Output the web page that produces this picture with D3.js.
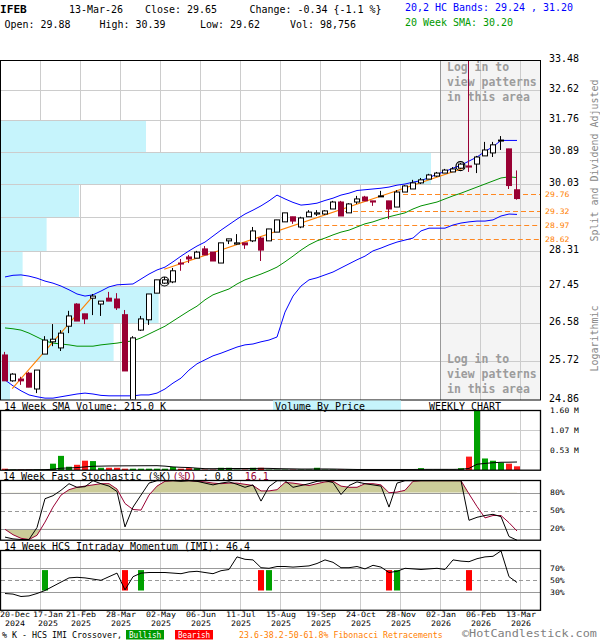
<!DOCTYPE html>
<html><head><meta charset="utf-8">
<script src="https://cdn.jsdelivr.net/npm/d3@7/dist/d3.min.js"></script>
<style>
html,body{margin:0;padding:0;background:#fff}
svg{display:block}
text{font-family:"DejaVu Sans Mono","Liberation Mono",monospace;white-space:pre}
</style></head><body>
<svg id="chart" width="600" height="640"></svg>
<script>
// ---------------- DATA ----------------
const symbol = "IFEB";
const firstWeek = "2024-12-20";
const lastVolume = 98756;
const opens = [25.85,25.27,25.31,25.44,25.09,25.87,26.15,26.01,26.51,27.03,
26.80,27.17,27.03,27.17,27.15,26.78,24.85,26.42,26.66,27.29,
27.53,27.56,28.02,28.17,28.14,28.37,28.29,28.02,28.57,28.49,
28.52,28.57,28.64,28.57,28.79,29.05,29.18,28.92,29.18,29.25,
29.25,29.38,29.56,29.28,29.56,29.69,29.59,29.70,29.59,29.43,
29.82,29.90,30.06,30.16,30.24,30.32,30.35,30.45,30.51,30.56,
30.78,30.86,31.19,30.97,29.88];
const highs = [25.92,25.44,25.36,25.47,25.51,26.28,26.56,26.42,26.87,27.05,
26.80,27.27,27.10,27.32,27.29,26.89,26.28,26.75,27.27,27.61,
27.68,27.90,28.12,28.22,28.32,28.44,28.29,28.52,28.62,28.74,
28.52,28.92,28.67,28.87,29.10,29.28,29.18,29.18,29.35,29.35,
29.35,29.59,29.59,29.53,29.72,29.72,29.59,29.85,29.59,29.87,
30.00,30.14,30.19,30.30,30.35,30.43,30.48,30.59,33.46,30.78,
31.16,31.16,31.32,30.97,30.39];
const lows = [25.27,25.25,25.18,25.13,25.00,25.87,26.05,25.94,26.35,26.63,
26.56,26.77,26.75,27.10,26.89,25.49,24.80,26.40,26.54,27.29,
27.51,27.53,27.83,28.02,28.14,28.22,28.07,28.02,28.49,28.47,
28.37,28.54,28.07,28.57,28.79,29.05,29.00,28.89,29.18,29.20,
29.23,29.38,29.20,29.28,29.51,29.59,29.46,29.69,29.12,29.43,
29.82,29.90,30.03,30.16,30.22,30.32,30.35,30.43,30.35,30.32,
30.78,30.75,30.94,29.90,29.62];
const closes = [25.27,25.42,25.27,25.13,25.51,26.19,26.21,26.35,26.75,26.63,
26.68,27.22,27.10,27.10,26.94,25.49,26.24,26.68,27.27,27.61,
27.61,27.83,28.00,28.12,28.29,28.22,28.07,28.52,28.62,28.52,
28.47,28.82,28.34,28.87,29.10,29.28,29.07,29.15,29.30,29.28,
29.33,29.56,29.20,29.51,29.64,29.59,29.56,29.72,29.38,29.82,
29.98,30.06,30.14,30.27,30.32,30.40,30.43,30.56,30.48,30.75,
30.94,31.08,31.21,29.99,29.65];
const bandUpper = [27.68,27.72,27.73,27.70,27.65,27.58,27.53,27.46,27.37,27.27,
27.22,27.25,27.34,27.44,27.49,27.50,27.51,27.63,27.75,27.85,
27.92,28.05,28.19,28.32,28.44,28.54,28.69,28.84,28.98,29.12,
29.25,29.35,29.46,29.59,29.74,29.64,29.55,29.48,29.50,29.53,
29.60,29.66,29.74,29.79,29.86,29.88,29.90,29.92,29.95,30.00,
30.03,30.08,30.12,30.20,30.29,30.36,30.45,30.53,30.64,30.75,
30.90,31.03,31.20,31.20,31.20];
const bandLower = [25.29,25.16,25.05,24.96,24.92,24.89,24.89,24.92,24.95,24.98,
25.00,24.98,24.95,24.94,24.94,24.94,24.94,24.96,24.96,25.00,
25.09,25.22,25.33,25.51,25.65,25.74,25.83,25.89,25.96,26.03,
26.08,26.10,26.15,26.19,26.26,26.84,27.22,27.46,27.61,27.66,
27.73,27.80,27.90,28.00,28.10,28.19,28.32,28.39,28.47,28.54,
28.59,28.64,28.82,28.89,28.89,28.89,28.97,29.02,29.05,29.07,
29.07,29.10,29.20,29.25,29.24];
const sma20 = [26.47,26.45,26.42,26.35,26.26,26.17,26.12,26.10,26.08,26.05,
26.05,26.05,26.08,26.10,26.12,26.15,26.17,26.24,26.33,26.42,
26.51,26.63,26.75,26.87,26.98,27.13,27.25,27.32,27.39,27.51,
27.61,27.68,27.75,27.83,27.92,28.05,28.19,28.34,28.47,28.57,
28.64,28.72,28.79,28.84,28.92,29.00,29.05,29.12,29.18,29.23,
29.28,29.38,29.46,29.51,29.56,29.64,29.72,29.79,29.87,29.95,
30.03,30.11,30.19,30.22,30.20];
// weekly volume, millions of shares
const volumes = [0.035,0.01,0.01,0.01,0.01,0.01,0.17,0.38,0.088,0.14,
0.25,0.24,0.06,0.06,0.06,0.035,0.035,0.035,0.035,0.035,
0.035,0.08,0.035,0.05,0.05,0.01,0.01,0.06,0.06,0.01,
0.01,0.06,0.06,0.01,0.01,0.01,0.01,0.01,0.01,0.06,
0.01,0.01,0.01,0.01,0.01,0.01,0.01,0.01,0.01,0.01,
0.01,0.01,0.05,0.01,0.01,0.01,0.01,0.05,0.36,1.60,
0.31,0.25,0.20,0.17,0.098756];
const volSma14 = [0.003,0.005,0.006,0.007,0.008,0.009,0.02,0.048,0.055,0.065,
0.083,0.1,0.104,0.108,0.11,0.112,0.113,0.114,0.115,0.116,
0.104,0.083,0.072,0.066,0.05,0.036,0.035,0.038,0.04,0.04,
0.04,0.04,0.045,0.043,0.037,0.033,0.03,0.026,0.026,0.028,
0.028,0.026,0.022,0.018,0.014,0.014,0.014,0.014,0.014,0.014,
0.014,0.014,0.017,0.017,0.017,0.017,0.017,0.02,0.043,0.155,
0.177,0.195,0.208,0.21,0.215];
const stochK = [6,3,2,2,22,70,75,84,95,89,
90,100,95,91,82,23,56,76,96,100,
100,100,99,100,99,96,93,96,98,94,
89,93,66,90,100,100,89,92,95,99,
100,97,77,92,98,95,93,91,56,96,
100,100,100,100,100,100,100,100,34,39,
42,44,40,7,0.8];
const stochD = [19,10,4,2,9,31,56,76,85,89,
91,93,95,95,86,62,52,51,76,91,
99,100,100,100,99,98,96,95,96,96,
94,92,83,83,85,97,96,94,92,95,
98,99,91,89,89,95,95,93,80,81,
84,99,100,100,100,100,100,100,78,57,
38,42,42,30,16.1];
const imi = [28,27,23,24,28,33,40,47,54,55,
54,52,50,56,62,34,56,62,63,63,
63,62,61,64,65,63,61,66,68,89,
85,84,71,70,73,73,72,73,74,78,
84,80,71,71,73,69,75,72,63,65,
70,69,68,69,70,68,84,82,81,86,
89,90,99,56,46.4];
const bullishWeeks = [5,17,33,49];
const bearishWeeks = [15,32,48,58];
const patternWeeks = [20,57];
const priceTicks = [33.48,32.62,31.76,30.89,30.03,29.17,28.31,27.45,26.58,25.72,24.86];
const vbpVolumes = [0,0,725,2150,390,228,108,788,563,45]; // thousands, rows between priceTicks
const volTicks = [1.60,1.07,0.53];
const stochTicks = [80,50,20];
const imiTicks = [70,50,30];
const dateTicks = ["2024-12-20","2025-01-17","2025-02-21","2025-03-28","2025-05-02","2025-06-06","2025-07-11","2025-08-15","2025-09-19","2025-10-24","2025-11-28","2026-01-02","2026-02-06","2026-03-13"];
const fibLevels = [29.76,29.32,28.97,28.62];
const fibStartWeeks = [48.75,42.5,36.9,33.1];
const trendLines = [[0.9,25.10,11,27.22],[19.9,27.87,57.3,30.45]];

// ---------------- SETUP ----------------
const svg = d3.select("#chart");
svg.append("rect").attr("width",600).attr("height",640).attr("fill","#fff");
const defs = svg.append("defs");
const parseD = d3.utcParse("%Y-%m-%d");
const d0 = parseD(firstWeek);
const WEEK = 7*864e5;
const weekDate = i => new Date(+d0 + i*WEEK);
const n = closes.length;
const x = d3.scaleUtc().domain([weekDate(0), weekDate(n-1)]).range([5,517]);
const wx = i => x(weekDate(i));
const slot = wx(1)-wx(0);
const y = d3.scaleLog().domain([24.86,33.48]).range([399.5,60]);
const vy = d3.scaleLinear().domain([0,1.6]).range([470,410.5]);
const sy = d3.scaleLinear().domain([0,100]).range([540.7,480.7]);
const iy = d3.scaleLinear().domain([0,100]).range([610.3,550.3]);
const RED = "#990033", GRID = "#cccccc";
const gridX = dateTicks.slice(1).map(s => Math.round(x(parseD(s)) + slot/2) - 0.5);

function T(parent, str, x0, y0, o = {}) {
  const fs = o.fs || 11, cw = o.cw === undefined ? 6 : o.cw;
  const t = parent.append("text").attr("x", x0).attr("y", y0)
    .attr("font-size", fs).attr("fill", o.fill || "#000").text(str);
  if (o.bold) t.attr("font-weight", "bold");
  if (o.anchor) t.attr("text-anchor", o.anchor);
  if (o.transform) t.attr("transform", o.transform);
  if (cw > 0) t.attr("textLength", str.length * cw - (o.trim || 0)).attr("lengthAdjust", "spacingAndGlyphs");
  return t;
}
// coloured parts laid out on one monospace line (10px mono = 6.02px per char)
function TS(parent, parts, x0, y0) {
  const cw = 6.02;
  let off = 0;
  parts.forEach((p, k) => {
    const s = p[0];
    const lead = s.length - s.trimStart().length;
    const body = s.trim();
    if (body) T(parent, body, x0 + (off + lead) * cw + (k ? 1 : 0), y0, {fs: 10, cw: 0, fill: p[1]});
    off += s.length;
  });
}

// ---------------- HEADER ----------------
const gh = svg.append("g");
const last = n-1;
const chg = closes[last]-closes[last-1];
T(gh, symbol, 0, 13, {bold:true, cw:6.7});
T(gh, "13-Mar-26", 69, 13);
T(gh, "Close: " + closes[last].toFixed(2), 145, 13);
T(gh, "Change: " + chg.toFixed(2) + " {" + (chg/closes[last-1]*100).toFixed(1) + " %}", 249.5, 13);
T(gh, "20,2 HC Bands: " + bandLower[last].toFixed(2) + " , " + bandUpper[last].toFixed(2), 405, 10.5, {fill:"#0000ff"});
T(gh, "Open: " + opens[last].toFixed(2), 4.5, 28);
T(gh, "High: " + highs[last].toFixed(2), 99.5, 28);
T(gh, "Low: " + lows[last].toFixed(2), 200, 28);
T(gh, "Vol: " + d3.format(",")(lastVolume), 290, 28);
T(gh, "20 Week SMA: " + sma20[last].toFixed(2), 405, 26, {fill:"#009900"});

// ---------------- MAIN PRICE CHART ----------------
defs.append("clipPath").attr("id","clipMain").append("rect")
  .attr("x",1).attr("y",60.5).attr("width",539.5).attr("height",339);
const gm = svg.append("g");
gm.append("rect").attr("x",441).attr("y",60).attr("width",99.5).attr("height",339.5).attr("fill","#f4f4f4");
priceTicks.slice(1,-1).forEach(t => {
  const yy = Math.round(y(t)) + 0.5;
  gm.append("line").attr("x1",1).attr("x2",540).attr("y1",yy).attr("y2",yy).attr("stroke",GRID);
});
gridX.forEach(gx => {
  gm.append("line").attr("x1",gx).attr("x2",gx).attr("y1",60).attr("y2",400)
    .attr("stroke", gx > 440 && gx < 442 ? "#999" : GRID);
});
// volume by price
const vbpX = d3.scaleLinear().domain([0,2700]).range([1,541]);
vbpVolumes.forEach((v,k) => {
  if (!v) return;
  const yt = Math.round(y(priceTicks[k])) + 1, yb = Math.round(y(priceTicks[k+1]));
  gm.append("rect").attr("x",1).attr("y",yt).attr("width",vbpX(v)-1).attr("height",yb-yt).attr("fill","#c6f4fc");
});
// log in text
["Log in to","view patterns","in this area"].forEach((s,k) => {
  T(gm, s, 447, 71 + k*15, {bold:true, fs:12, cw:6.9, fill:"#9c9c9c"});
  T(gm, s, 447, 363 + k*15, {bold:true, fs:12, cw:6.9, fill:"#9c9c9c"});
});
// fibonacci
fibLevels.forEach((f,k) => {
  const yy = Math.round(y(f)) + 0.5;
  gm.append("line").attr("x1",wx(fibStartWeeks[k])).attr("x2",540).attr("y1",yy).attr("y2",yy)
    .attr("stroke","#ff8822").attr("stroke-dasharray","5,3");
  T(gm, f.toFixed(2), 545, y(f)+2.7, {fs:7.5, cw:4.9, fill:"#ff8000"});
});
const gc = gm.append("g").attr("clip-path","url(#clipMain)");
const lineGen = d3.line().x((d,i) => wx(i)).y(d => y(d));
gc.append("path").datum(bandUpper).attr("d",lineGen).attr("fill","none").attr("stroke","#0000ff");
gc.append("path").datum(bandLower).attr("d",lineGen).attr("fill","none").attr("stroke","#0000ff");
gc.append("path").datum(sma20).attr("d",lineGen).attr("fill","none").attr("stroke","#009000");
trendLines.forEach(t => {
  gc.append("line").attr("x1",wx(t[0])).attr("y1",y(t[1])).attr("x2",wx(t[2])).attr("y2",y(t[3]))
    .attr("stroke","#ff8000").attr("stroke-width",1.1);
});
closes.forEach((c,i) => {
  const o = opens[i], h = highs[i], l = lows[i];
  const cx = Math.round(wx(i));
  const up = c >= o;
  const col = up ? "#000" : RED;
  gc.append("line").attr("x1",cx-0.5).attr("x2",cx-0.5).attr("y1",y(h)).attr("y2",y(l)).attr("stroke",col);
  const top = y(Math.max(o,c)), bot = y(Math.min(o,c));
  if (up) gc.append("rect").attr("x",cx-2.5).attr("y",top).attr("width",5).attr("height",Math.max(1,bot-top))
    .attr("fill","#fff").attr("stroke","#000");
  else gc.append("rect").attr("x",cx-3).attr("y",top-0.5).attr("width",6).attr("height",Math.max(2,bot-top+1)).attr("fill",RED);
});
patternWeeks.forEach(i => {
  gc.append("circle").attr("cx",wx(i)-0.5).attr("cy",y((opens[i]+closes[i])/2)).attr("r",4.5)
    .attr("fill","none").attr("stroke","#000").attr("stroke-width",1.2);
});
gm.append("rect").attr("x",0.5).attr("y",60.5).attr("width",540).attr("height",339.5)
  .attr("fill","none").attr("stroke","#000");
// price axis labels
priceTicks.forEach(t => {
  const near = fibLevels.some(f => Math.abs(y(f)-y(t)) < 9);
  if (!near) T(gm, t.toFixed(2), 549, y(t)+2, {fs:10.5});
});
T(gm, "Split and Dividend Adjusted", 0, 0, {anchor:"middle", fill:"#888", transform:"translate(598,160.5) rotate(-90)"});
T(gm, "Logarithmic", 0, 0, {anchor:"middle", fill:"#888", transform:"translate(598,338.5) rotate(-90)"});

// ---------------- VOLUME PANEL ----------------
const gv = svg.append("g");
T(gv, "14 Week SMA Volume: " + (volSma14[last]*1000).toFixed(1) + " K", 4, 410);
gv.append("rect").attr("x",273).attr("y",400.5).attr("width",128).attr("height",9.5).attr("fill","#c6f4fc");
T(gv, "Volume By Price", 275, 409.5);
T(gv, "WEEKLY CHART", 429, 410);
volTicks.slice(1).forEach(t => {
  const yy = Math.round(vy(t)) + 0.5;
  gv.append("line").attr("x1",1).attr("x2",540).attr("y1",yy).attr("y2",yy).attr("stroke",GRID);
});
gridX.forEach(gx => gv.append("line").attr("x1",gx).attr("x2",gx).attr("y1",411).attr("y2",470).attr("stroke",GRID));
volumes.forEach((v,i) => {
  const cx = Math.round(wx(i));
  gv.append("rect").attr("x",cx-3).attr("y",vy(v)).attr("width",6).attr("height",vy(0)-vy(v))
    .attr("fill", closes[i] >= opens[i] ? "#00a000" : "#ff1a1a");
});
gv.append("path").datum(volSma14).attr("d", d3.line().x((d,i)=>wx(i)).y(d=>vy(d)))
  .attr("fill","none").attr("stroke","#000");
gv.append("rect").attr("x",0.5).attr("y",410.5).attr("width",540).attr("height",59.7)
  .attr("fill","none").attr("stroke","#000").attr("stroke-width",1.3);
volTicks.forEach(t => T(gv, t.toFixed(2) + " M", 550, vy(t)+2.5, {fs:7.5, cw:4.8}));

// ---------------- STOCHASTIC PANEL ----------------
const gs = svg.append("g");
TS(gs, [["14 Week Fast Stochastic (%K)","#000"],["(%D)",RED],[" : " + stochK[last] + "  ","#000"],[String(stochD[last]),RED]], 3, 480);
defs.append("clipPath").attr("id","clipHi").append("rect").attr("x",1).attr("y",481).attr("width",539.5).attr("height",sy(80)-481);
defs.append("clipPath").attr("id","clipLo").append("rect").attr("x",1).attr("y",sy(20)).attr("width",539.5).attr("height",540-sy(20));
gridX.forEach(gx => gs.append("line").attr("x1",gx).attr("x2",gx).attr("y1",481).attr("y2",540).attr("stroke",GRID));
gs.append("path").datum(stochD).attr("d", d3.area().x((d,i)=>wx(i)).y0(sy(80)).y1(d=>sy(d)))
  .attr("fill","#cccc99").attr("clip-path","url(#clipHi)");
gs.append("path").datum(stochD).attr("d", d3.area().x((d,i)=>wx(i)).y0(sy(20)).y1(d=>sy(d)))
  .attr("fill","#cccc99").attr("clip-path","url(#clipLo)");
stochTicks.forEach(t => {
  const yy = Math.round(sy(t)) + 0.5;
  gs.append("line").attr("x1",1).attr("x2",540).attr("y1",yy).attr("y2",yy).attr("stroke","#999")
    .attr("stroke-dasharray", t === 50 ? "4,3" : null);
});
const sLine = d3.line().x((d,i)=>wx(i)).y(d=>sy(d));
gs.append("path").datum(stochD).attr("d",sLine).attr("fill","none").attr("stroke",RED);
gs.append("path").datum(stochK).attr("d",sLine).attr("fill","none").attr("stroke","#000");
gs.append("rect").attr("x",0.5).attr("y",480.5).attr("width",540).attr("height",59.7)
  .attr("fill","none").attr("stroke","#000").attr("stroke-width",1.3);
stochTicks.forEach(t => T(gs, t + "%", 550, sy(t)+2.5, {fs:7.5, cw:4.9}));

// ---------------- IMI PANEL ----------------
const gi = svg.append("g");
T(gi, "14 Week HCS Intraday Momentum (IMI): " + imi[last], 4, 550);
gridX.forEach(gx => gi.append("line").attr("x1",gx).attr("x2",gx).attr("y1",551).attr("y2",610).attr("stroke",GRID));
imiTicks.forEach(t => {
  const yy = Math.round(iy(t)) + 0.5;
  gi.append("line").attr("x1",1).attr("x2",540).attr("y1",yy).attr("y2",yy).attr("stroke","#999")
    .attr("stroke-dasharray", t === 50 ? "4,3" : null);
});
bullishWeeks.forEach(i => gi.append("rect").attr("x",Math.round(wx(i))-3).attr("y",iy(67)).attr("width",6).attr("height",iy(33)-iy(67)).attr("fill","#00a000"));
bearishWeeks.forEach(i => gi.append("rect").attr("x",Math.round(wx(i))-3).attr("y",iy(67)).attr("width",6).attr("height",iy(33)-iy(67)).attr("fill","#ff0000"));
gi.append("path").datum(imi).attr("d", d3.line().x((d,i)=>wx(i)).y(d=>iy(d)))
  .attr("fill","none").attr("stroke","#000");
gi.append("rect").attr("x",0.5).attr("y",550.5).attr("width",540).attr("height",59.8)
  .attr("fill","none").attr("stroke","#000").attr("stroke-width",1.3);
imiTicks.forEach(t => T(gi, t + "%", 550, iy(t)+2.5, {fs:7.5, cw:4.9}));

// ---------------- DATE AXIS ----------------
const ga = svg.append("g");
const fDay = d3.utcFormat("%d-%b"), fYear = d3.utcFormat("%Y");
let prevEnd = -Infinity;
dateTicks.forEach(s => {
  const d = parseD(s);
  const c = x(d) + slot/2;
  const w = 30;
  let st = c - w/2;
  if (st < 0) st = 0;
  if (st < prevEnd + 3) st = prevEnd + 3;
  prevEnd = st + w;
  T(ga, fDay(d), st, 616.8, {fs:7.5, cw:5});
  T(ga, fYear(d), st + 5, 625.8, {fs:7.5, cw:5});
});

// ---------------- FOOTER ----------------
const gf = svg.append("g");
T(gf, "% K - HCS IMI Crossover,", 2, 637.5, {fs:8, cw:5});
gf.append("rect").attr("x",126).attr("y",630).attr("width",38).attr("height",9.5).attr("fill","#009900");
T(gf, "Bullish", 129, 637.5, {fs:8, cw:4.6, fill:"#fff"});
gf.append("rect").attr("x",175).attr("y",630).attr("width",38).attr("height",9.5).attr("fill","#ff0000");
T(gf, "Bearish", 178, 637.5, {fs:8, cw:4.6, fill:"#fff"});
T(gf, "23.6-38.2-50-61.8% Fibonacci Retracements", 239, 637.5, {fs:8, cw:4.97, fill:"#ff8000"});
T(gf, "\u00a9HotCandlestick.com", 462, 637.3, {fs:10.5, cw:7.1, fill:"#808080"});
</script></body></html>
